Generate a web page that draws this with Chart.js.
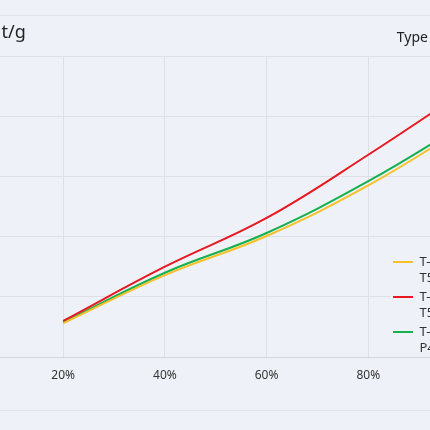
<!DOCTYPE html>
<html>
<head>
<meta charset="utf-8">
<script src="https://cdn.jsdelivr.net/npm/chart.js@4.4.1/dist/chart.umd.min.js"></script>
<style>
    html, body { margin: 0; padding: 0; }
    body { width: 430px; height: 430px; overflow: hidden; background: #eef2f8; position: relative; }
    .frame { position: absolute; left: 0; top: 15px; width: 430px; height: 394px;
             border-top: 1px solid #dfe3ea; border-bottom: 1px solid #dfe3ea; overflow: hidden; }
    .wrap { position: absolute; left: -100px; top: 0; width: 600px; height: 394px; }
</style>
</head>
<body>
<div class="frame"><div class="wrap"><canvas id="curveChart"></canvas></div></div>
<script>
// load rate (%) on the x axis
const loadRates = [20, 40, 60, 80, 100];
const xTicks = [0, 20, 40, 60, 80, 100];
const yTicks = [0, 100, 200, 300, 400, 500];

// series (legend text is two lines)
const seriesNames = [['T-M12', 'T5-A'], ['T-M16', 'T5-B'], ['T-M20', 'P4-C']];
const yellowValues = [56, 136, 201, 285, 387];
const redValues = [60, 150, 231, 336, 448];
const greenValues = [58, 140, 206, 292, 393];
const seriesColors = ['#f6c02a', '#e9171f', '#16b04f'];

const bgColor = '#eef2f8';
const gridColor = '#dde1e7';
const textColor = '#333333';
const fontFamily = "'Noto Sans', 'Noto Sans CJK SC', sans-serif";

function toPoints(values) {
    return values.map((v, i) => ({ x: loadRates[i], y: v }));
}

// legend sits inside the plot, bottom right, on a plain background
const legendPlace = {
    id: 'legendPlace',
    afterLayout(chart) {
        const lg = chart.legend;
        const area = chart.chartArea;
        lg.left = area.right - 80;
        lg.top = area.bottom - 104.5;
        lg.right = chart.width;
        lg.bottom = chart.height;
    },
    afterDatasetsDraw(chart) {
        const ctx = chart.ctx;
        const area = chart.chartArea;
        ctx.save();
        ctx.fillStyle = bgColor;
        ctx.fillRect(area.right - 79, area.bottom - 112, 79, 111);
        ctx.restore();
        chart.legend.draw();
    }
};

const datasets = [yellowValues, redValues, greenValues].map((values, i) => ({
    label: seriesNames[i],
    data: toPoints(values),
    borderColor: seriesColors[i],
    backgroundColor: seriesColors[i],
    borderWidth: 2,
    pointRadius: 0,
    tension: 0.4,
    fill: false
}));

new Chart(document.getElementById('curveChart'), {
    type: 'line',
    data: { datasets: datasets },
    plugins: [legendPlace],
    options: {
        responsive: true,
        maintainAspectRatio: false,
        animation: false,
        layout: { padding: { left: 0, right: 30, top: 0, bottom: 0 } },
        plugins: {
            title: {
                display: true,
                text: 'Unit t/g',
                align: 'start',
                fullSize: false,
                color: '#222222',
                font: { family: fontFamily, size: 18, weight: 'normal' },
                padding: { top: 6.2, bottom: 0 }
            },
            subtitle: {
                display: true,
                text: 'Type codes',
                align: 'end',
                fullSize: false,
                color: '#222222',
                font: { family: fontFamily, size: 14, weight: 'normal' },
                padding: { top: -14.2, bottom: 9.6 }
            },
            legend: {
                position: 'chartArea',
                align: 'start',
                labels: {
                    usePointStyle: true,
                    pointStyle: 'line',
                    pointStyleWidth: 20,
                    padding: 3,
                    color: textColor,
                    font: { family: fontFamily, size: 13, lineHeight: '16px' }
                }
            },
            tooltip: { enabled: false }
        },
        scales: {
            x: {
                type: 'linear',
                min: xTicks[0],
                max: xTicks[xTicks.length - 1],
                afterBuildTicks: scale => { scale.ticks = xTicks.map(v => ({ value: v })); },
                afterFit: scale => { scale.height = 53; },
                ticks: {
                    color: textColor,
                    padding: 11,
                    maxRotation: 0,
                    font: { family: fontFamily, size: 12 },
                    callback: v => v + '%'
                },
                grid: { color: gridColor, drawTicks: false },
                border: { color: '#d2d6dd' }
            },
            y: {
                min: yTicks[0],
                max: yTicks[yTicks.length - 1],
                afterBuildTicks: scale => { scale.ticks = yTicks.map(v => ({ value: v })); },
                afterFit: scale => { scale.width = 61.5; },
                ticks: { color: textColor, font: { family: fontFamily, size: 12 } },
                grid: { color: gridColor, drawTicks: false },
                border: { display: false }
            }
        }
    }
});
</script>
</body>
</html>
